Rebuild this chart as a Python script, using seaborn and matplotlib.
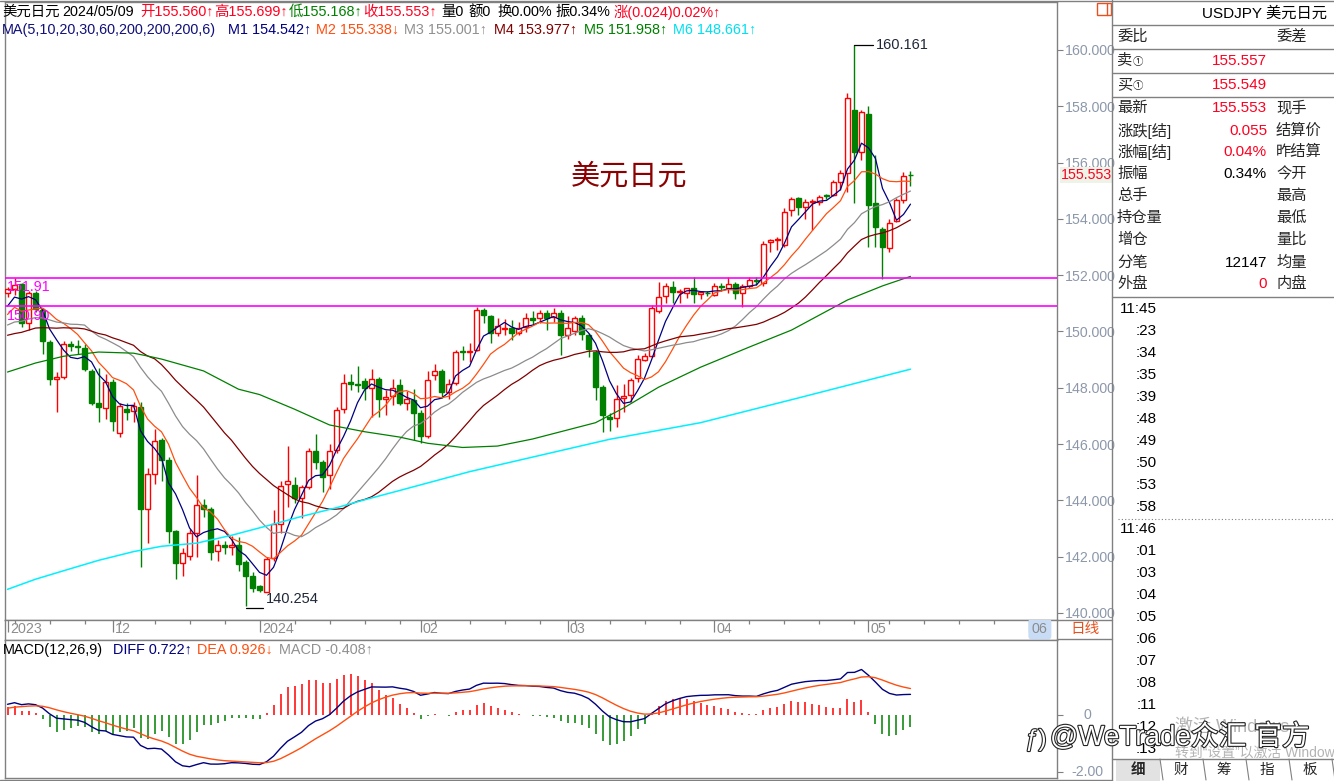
import numpy as np
import pandas as pd
import matplotlib
matplotlib.use('Agg')
import matplotlib.pyplot as plt
import matplotlib.patheffects as pe
from matplotlib.patches import Rectangle
from matplotlib.transforms import blended_transform_factory
import seaborn as sns

# USDJPY daily bars, 2023-11-10 .. 2024-05-09 (weekdays)
opens = [151.36, 151.50, 151.68, 150.30, 151.38, 150.78, 149.62, 148.32, 148.38, 149.55,
         149.50, 149.40, 148.60, 147.45, 147.28, 148.20, 146.40, 147.25, 147.18, 147.30,
         143.70, 144.93, 146.15, 145.43, 142.90, 141.78, 142.04, 142.84, 143.84, 143.70,
         142.20, 142.42, 142.36, 142.40, 141.80, 141.30, 140.95, 140.76, 141.95, 143.15,
         144.57, 144.55, 144.08, 144.49, 145.76, 145.38, 144.90, 145.80, 147.23, 148.20,
         148.15, 148.25, 148.00, 148.33, 147.59, 147.70, 148.10, 147.45, 147.57, 147.10,
         146.27, 148.45, 148.58, 147.86, 148.16, 149.32, 149.26, 149.34, 150.76, 150.55,
         149.94, 150.10, 150.12, 149.96, 150.17, 150.47, 150.47, 150.65, 150.53, 150.67,
         149.88, 150.00, 150.47, 149.88, 149.28, 148.04, 146.95, 146.92, 147.62, 147.74,
         148.34, 148.99, 149.14, 150.73, 151.26, 151.57, 151.40, 151.36, 151.54, 151.32,
         151.38, 151.30, 151.62, 151.54, 151.69, 151.36, 151.62, 151.83, 151.73, 153.19,
         153.26, 153.07, 154.32, 154.73, 154.41, 154.61, 154.61, 154.85, 154.85, 155.32,
         155.64, 157.87, 156.39, 157.72, 154.55, 153.64, 152.96, 153.94, 154.67, 155.56]
highs = [151.58, 151.91, 151.72, 151.45, 151.43, 150.85, 149.70, 148.55, 149.68, 149.66,
         149.70, 149.55, 148.65, 148.70, 148.50, 148.30, 147.45, 147.45, 147.50, 147.50,
         145.15, 146.54, 146.20, 145.55, 142.95, 142.30, 143.00, 144.90, 144.05, 143.75,
         142.60, 142.55, 142.72, 142.70, 141.90, 141.45, 141.00, 142.00, 143.66, 144.70,
         145.94, 144.84, 144.55, 145.85, 146.36, 145.45, 146.00, 147.30, 148.49, 148.49,
         148.77, 148.35, 148.67, 148.40, 147.92, 148.30, 148.30, 147.90, 147.95, 147.20,
         148.58, 148.85, 148.65, 148.30, 149.35, 149.50, 149.58, 150.88, 150.85, 150.60,
         150.47, 150.45, 150.40, 150.35, 150.67, 150.72, 150.75, 150.78, 150.85, 150.75,
         150.55, 150.55, 150.60, 149.95, 149.35, 148.10, 147.12, 148.10, 148.14, 148.35,
         149.15, 149.25, 150.94, 151.77, 151.72, 151.80, 151.50, 151.55, 151.93, 151.45,
         151.45, 151.71, 151.73, 151.93, 151.75, 151.70, 151.93, 151.95, 153.23, 153.30,
         153.36, 154.38, 154.79, 154.78, 154.70, 154.70, 154.85, 154.88, 155.37, 155.74,
         158.46, 160.161, 157.87, 158.00, 156.27, 153.70, 153.99, 154.75, 155.68, 155.699]
lows = [151.22, 151.30, 150.15, 150.05, 150.70, 149.20, 148.10, 147.15, 148.30, 149.30,
        149.20, 148.60, 147.40, 146.80, 146.90, 146.45, 146.25, 146.85, 146.80, 141.63,
        142.50, 144.60, 144.70, 142.50, 141.20, 141.30, 141.90, 142.00, 143.40, 141.90,
        141.85, 142.10, 142.05, 141.50, 140.254, 140.75, 140.75, 140.75, 141.85, 142.85,
        143.78, 143.90, 143.36, 144.40, 145.10, 144.31, 144.40, 145.70, 147.10, 147.92,
        147.86, 147.57, 146.97, 146.97, 147.05, 147.39, 147.40, 147.20, 146.15, 146.04,
        146.20, 148.28, 147.63, 147.60, 148.10, 149.00, 148.93, 149.30, 150.31, 149.58,
        149.85, 149.88, 149.70, 149.86, 149.97, 150.27, 150.30, 150.05, 150.32, 149.17,
        149.75, 149.88, 149.70, 149.10, 147.57, 146.44, 146.48, 146.60, 147.15, 147.50,
        148.20, 148.95, 149.10, 150.65, 151.00, 151.00, 151.02, 151.20, 151.02, 151.15,
        151.25, 151.25, 151.45, 151.38, 151.14, 150.88, 151.55, 151.65, 151.60, 152.83,
        152.90, 153.00, 154.10, 154.14, 153.99, 153.60, 154.49, 154.70, 154.80, 155.03,
        154.97, 154.55, 156.09, 153.01, 153.00, 151.86, 152.83, 153.90, 154.55, 155.168]
closes = [151.51, 151.65, 150.30, 151.38, 150.80, 149.68, 148.30, 148.38, 149.55, 149.50,
          149.45, 148.65, 147.45, 147.30, 148.22, 146.82, 147.35, 147.15, 147.35, 143.70,
          144.93, 146.10, 145.43, 142.93, 141.77, 142.14, 142.84, 143.84, 143.70, 142.18,
          142.40, 142.36, 142.42, 141.74, 141.33, 140.90, 140.82, 141.91, 143.15, 144.52,
          144.70, 144.08, 144.47, 145.76, 145.38, 144.84, 145.76, 147.21, 148.16, 148.12,
          148.10, 148.00, 148.30, 147.59, 147.68, 148.00, 147.45, 147.59, 147.12, 146.30,
          148.28, 148.60, 147.84, 148.12, 149.26, 149.26, 149.32, 150.76, 150.59, 149.94,
          150.18, 150.14, 149.96, 150.14, 150.47, 150.42, 150.65, 150.47, 150.65, 149.88,
          150.12, 150.47, 149.91, 149.37, 148.04, 147.03, 146.88, 147.59, 147.70, 148.28,
          149.01, 149.13, 150.82, 151.21, 151.62, 151.41, 151.43, 151.54, 151.32, 151.39,
          151.35, 151.60, 151.58, 151.69, 151.36, 151.60, 151.83, 151.80, 153.10, 153.25,
          153.28, 154.26, 154.70, 154.41, 154.61, 154.65, 154.79, 154.82, 155.32, 155.62,
          158.31, 156.39, 157.81, 154.49, 153.72, 153.01, 153.87, 154.67, 155.52, 155.553]
# closes before the window (start of the averages and MACD)
pre_closes = [149.85, 149.00, 149.10, 148.50, 149.30, 148.50, 148.70, 149.10, 149.80, 149.55,
              149.50, 149.80, 149.80, 149.80, 149.85, 149.70, 149.90, 150.20, 150.40, 149.60,
              149.10, 151.68, 150.95, 150.40, 149.40, 150.05, 150.65, 150.95, 151.35]

# MA60 / MA200 at some bars
ma60_bar = [0, 4, 8, 13, 18, 20, 22, 28, 33, 36, 41, 46, 51, 56, 60, 65, 70, 75, 84, 88,
            93, 99, 106, 112, 120, 125, 129]
ma60_val = [148.56, 148.88, 149.12, 149.27, 149.23, 149.13, 149.02, 148.60, 147.95, 147.76,
            147.24, 146.68, 146.44, 146.25, 146.03, 145.88, 145.93, 146.18, 146.76, 147.28,
            148.02, 148.73, 149.45, 150.05, 151.12, 151.62, 151.958]
ma200_bar = [0, 4, 8, 13, 18, 22, 27, 32, 37, 42, 47, 51, 56, 66, 86, 99, 113, 129]
ma200_val = [140.84, 141.20, 141.50, 141.87, 142.18, 142.37, 142.48, 142.76, 143.09, 143.43,
             143.74, 144.02, 144.35, 145.02, 146.17, 146.76, 147.64, 148.661]

levels = [151.91, 150.90]

header1 = [(2, '美元日元', 'black'), (62, '2024/05/09', 'black'), (140, '开155.560↑', '#FF0020'),
           (214, '高155.699↑', '#FF0020'), (289, '低155.168↑', '#008000'),
           (363, '收155.553↑', '#FF0020'), (441, '量0', 'black'), (468, '额0', 'black'),
           (497, '换0.00%', 'black'), (556, '振0.34%', 'black'), (614, '涨(0.024)0.02%↑', '#FF0020')]
header2 = [(2, 'MA(5,10,20,30,60,200,200,200,6)', '#10107A'), (228, 'M1 154.542↑', '#000080'),
           (316, 'M2 155.338↓', '#FF4F10'), (404, 'M3 155.001↑', '#909090'),
           (494, 'M4 153.977↑', '#800000'), (584, 'M5 151.958↑', '#008000'),
           (673, 'M6 148.661↑', '#00E0F0')]
macd_head = [(3, 'MACD(12,26,9)', 'black'), (113, 'DIFF 0.722↑', '#000080'),
             (197, 'DEA 0.926↓', '#FF4F10'), (279, 'MACD -0.408↑', '#909090')]

quote_rows = [('最新', '155.553', '现手', '#FF0020'), ('涨跌[结]', '0.055', '结算价', '#FF0020'),
              ('涨幅[结]', '0.04%', '昨结算', '#FF0020'), ('振幅', '0.34%', '今开', 'black'),
              ('总手', '', '最高', 'black'), ('持仓量', '', '最低', 'black'),
              ('增仓', '', '量比', 'black'), ('分笔', '12147', '均量', 'black'),
              ('外盘', '0', '内盘', '#FF0020')]
ticks_time = ['11:45', ':23', ':34', ':35', ':39', ':48', ':49', ':50', ':53', ':58',
              '11:46', ':01', ':03', ':04', ':05', ':06', ':07', ':08', ':11', ':12', ':13']
tabs = ['细', '财', '筹', '指', '板']

RED, GREEN = '#FF0000', '#008000'

sns.set_style('white')
plt.rcParams['font.family'] = ['Liberation Sans', 'Noto Sans CJK SC', 'DejaVu Sans']

n = len(closes)
bar = np.arange(n)
df = pd.DataFrame({'bar': bar, 'open': opens, 'high': highs, 'low': lows, 'close': closes})
up = (df['close'] >= df['open']).to_numpy()

allc = pd.Series(pre_closes + closes)
npre = len(pre_closes)
ma = {w: allc.rolling(w).mean().iloc[npre:].to_numpy() for w in (5, 10, 20, 30)}
ema12 = allc.ewm(span=12, adjust=False).mean()
ema26 = allc.ewm(span=26, adjust=False).mean()
diff = ema12 - ema26
dea = diff.ewm(span=9, adjust=False).mean()
hist = (2 * (diff - dea)).iloc[npre:].to_numpy()
diff = diff.iloc[npre:].to_numpy()
dea = dea.iloc[npre:].to_numpy()

dates = pd.bdate_range('2023-11-10', '2024-06-28')

W, H = 1334, 781
fig = plt.figure(figsize=(W / 100, H / 100), dpi=100)


def box(x0, y0, x1, y1):
    return [x0 / W, 1 - y1 / H, (x1 - x0) / W, (y1 - y0) / H]


ax = fig.add_axes(box(5, 2, 1057, 620))
axd = fig.add_axes(box(5, 620, 1057, 640))
axm = fig.add_axes(box(5, 640, 1057, 778))
axo = fig.add_axes([0, 0, 1, 1], zorder=10)
axo.set_xlim(0, W)
axo.set_ylim(H, 0)
axo.axis('off')

XL = (-0.36, 149.93)

# ---- candles ----
body_lo = np.minimum(df['open'], df['close']).to_numpy()
body_h = np.maximum((df['close'] - df['open']).abs().to_numpy(), 0.02)
ax.vlines(bar[up], df['low'][up], df['high'][up], color=RED, lw=1, zorder=3)
ax.vlines(bar[~up], df['low'][~up], df['high'][~up], color=GREEN, lw=1, zorder=3)
ax.bar(bar[up], body_h[up], bottom=body_lo[up], width=0.7, facecolor='white',
       edgecolor=RED, linewidth=1, zorder=4)
ax.bar(bar[~up], body_h[~up], bottom=body_lo[~up], width=0.7, facecolor=GREEN,
       edgecolor=GREEN, linewidth=1, zorder=4)

# ---- moving averages ----
for w, col in ((5, '#000080'), (10, '#FF4F10'), (20, '#8C8C8C'), (30, '#800000')):
    sns.lineplot(x=bar, y=ma[w], ax=ax, color=col, linewidth=0.9, zorder=5)
sns.lineplot(x=ma60_bar, y=ma60_val, ax=ax, color='#008000', linewidth=0.9, zorder=5)
sns.lineplot(x=ma200_bar, y=ma200_val, ax=ax, color='#00F0FF', linewidth=1.1, zorder=5)

for lv in levels:
    ax.axhline(lv, color='#FF00FF', lw=1.2, zorder=6)
    ax.annotate(f'{lv:.2f}', xy=(0, lv), xycoords=('axes fraction', 'data'), xytext=(1, -1.8),
                textcoords='offset points', ha='left', va='top', color='#FF00FF', fontsize=10.3,
                zorder=7)

hi = int(np.argmax(highs))
lo = int(np.argmin(lows))
ax.plot([hi, hi + 2.6], [highs[hi], highs[hi]], color='black', lw=0.9, zorder=6)
ax.annotate(f'{highs[hi]:.3f}', xy=(hi + 3.0, highs[hi]), ha='left', va='center',
            color='#1f2838', fontsize=10.5)
ax.plot([lo, lo + 2.5], [lows[lo] - 0.08, lows[lo] - 0.08], color='black', lw=0.9, zorder=6)
ax.annotate(f'{lows[lo]:.3f}', xy=(lo + 2.9, lows[lo]), xytext=(0, 5), textcoords='offset points',
            ha='left', va='center', color='#1f2838', fontsize=10.5)

ax.set_xlim(*XL)
ax.set_ylim(139.751, 161.705)
ax.set_xlabel('')
ax.set_ylabel('')
ax.yaxis.tick_right()
ax.set_yticks(np.arange(140, 161, 2))
ax.set_yticklabels([f'{v:.3f}' for v in np.arange(140, 161, 2)])
ax.tick_params(axis='y', direction='out', length=4, width=0.8, color='#808080', pad=1.5,
               labelsize=10.2, labelcolor='#8C98AA', right=True, left=False)
ax.tick_params(axis='x', bottom=False, labelbottom=False)
ax.annotate(f'{closes[-1]:.3f}', xy=(1, closes[-1]), xycoords=('axes fraction', 'data'),
            xytext=(3, 0), textcoords='offset points', ha='left', va='center', color='#FF0020',
            fontsize=10.2, bbox=dict(fc='#EDF3E6', ec='none', pad=0.6), annotation_clip=False)

ax.text(0.593, 0.718, '美元日元', transform=ax.transAxes, ha='center', va='center',
        color='#8B0000', fontsize=21)

# ---- date row ----
axd.set_xlim(*XL)
axd.set_ylim(1, 0)
axd.set_xticks([])
axd.set_yticks([])
month_start = [k for k in range(len(dates)) if k == 0 or dates[k].month != dates[k - 1].month]
mondays = [k for k in range(len(dates)) if dates[k].weekday() == 0 and k not in month_start]
axd.vlines(mondays, 0, 0.22, color='#808080', lw=0.9)
axd.vlines(month_start, 0, 0.62, color='#808080', lw=0.9)
for k in month_start:
    d = dates[k]
    lab = str(d.year) if (k == 0 or d.month == 1) else f'{d.month:02d}'
    t = axd.text(k + 0.35, 0.45, lab, ha='left', va='center', color='#8C8C8C', fontsize=10.3,
                 clip_on=True)
    if d.month == 6:
        t.set_bbox(dict(boxstyle='round,pad=0.25', fc='#C8DDF5', ec='none'))

# ---- MACD ----
axm.vlines(bar[hist >= 0], 0, hist[hist >= 0], color=RED, lw=1.1)
axm.vlines(bar[hist < 0], 0, hist[hist < 0], color=GREEN, lw=1.1)
sns.lineplot(x=bar, y=diff, ax=axm, color='#000080', linewidth=1.0)
sns.lineplot(x=bar, y=dea, ax=axm, color='#FF4F10', linewidth=1.0)
axm.set_xlim(*XL)
axm.set_ylim(-2.21, 2.632)
axm.set_xlabel('')
axm.set_ylabel('')
axm.set_xticks([])
axm.yaxis.tick_right()
axm.set_yticks([0, -2])
axm.set_yticklabels([])
axm.tick_params(axis='y', direction='out', length=4, width=0.8, color='#808080')
tr = blended_transform_factory(axm.transAxes, axm.transData)
axm.text(1.0285, 0, '0', transform=tr, ha='center', va='center', color='#8C98AA', fontsize=10.2)
axm.text(1.0285, -2, '-2.00', transform=tr, ha='center', va='center', color='#8C98AA',
         fontsize=10.2)

for a in (ax, axd, axm):
    for s in a.spines.values():
        s.set_color('#808080')
        s.set_linewidth(1)

# ---- header texts ----
for x, s, c in header1:
    axo.text(x, 12, s, ha='left', va='center', color=c, fontsize=10.4)
for x, s, c in header2:
    axo.text(x, 30, s, ha='left', va='center', color=c, fontsize=10.4)
for x, s, c in macd_head:
    axo.text(x, 650, s, ha='left', va='center', color=c, fontsize=10.4)

# ---- price column / right panel ----
gray = '#808080'
axo.plot([1112, 1112], [0, H], color=gray, lw=1)
axo.plot([0, W], [1, 1], color=gray, lw=1)
axo.plot([1057, 1112], [620, 620], color=gray, lw=1)
axo.plot([1057, 1112], [639, 639], color=gray, lw=1)
axo.text(1085, 629, '日线', ha='center', va='center', color='#E8501E', fontsize=10.5)
axo.add_patch(Rectangle((1097, 3), 14, 12, fill=False, ec='#E8501E', lw=1))
axo.plot([1107, 1107], [3, 15], color='#E8501E', lw=1)

for y in (25, 49, 73, 97, 297):
    axo.plot([1112, W], [y, y], color=gray, lw=1)
axo.text(1202, 14, 'USDJPY 美元日元', ha='left', va='center', color='black', fontsize=11)
axo.text(1117, 37, '委比', ha='left', va='center', fontsize=11)
axo.text(1276, 37, '委差', ha='left', va='center', fontsize=11)
for y, lab, val in ((61, '卖', '155.557'), (85, '买', '155.549')):
    axo.text(1117, y, lab, ha='left', va='center', fontsize=11)
    axo.text(1133, y + 1, '①', ha='left', va='center', fontsize=7.5)
    axo.text(1267, y, val, ha='right', va='center', color='#FF0020', fontsize=11)
row_y = [108, 131, 152, 174, 196, 218, 240, 263, 284]
for y, (l, v, r, c) in zip(row_y, quote_rows):
    axo.text(1117, y, l, ha='left', va='center', fontsize=11)
    axo.text(1267, y, v, ha='right', va='center', color=c, fontsize=11)
    axo.text(1276, y, r, ha='left', va='center', fontsize=11)

for k, s in enumerate(ticks_time):
    y = 309 + 22 * k
    axo.text(1157, y, s, ha='right', va='center', color='black', fontsize=11)
axo.plot([1118, W], [519, 519], color=gray, lw=0.8, ls=(0, (1, 2)))

# tabs
axo.plot([1112, W], [759, 759], color=gray, lw=1)
axo.add_patch(Rectangle((1116, 759), 44, 22, fc='#E2E2E2', ec='none'))
for k, s in enumerate(tabs):
    xc = 1138 + 43 * k
    axo.text(xc, 770, s, ha='center', va='center', fontsize=10.5,
             fontweight='bold' if k == 0 else 'normal')
    axo.plot([xc + 22, xc + 25], [759, 780], color=gray, lw=0.8)
axo.plot([0, 1112], [779.5, 779.5], color=gray, lw=1)

# watermarks
axo.text(1175, 727, '激活 Windows', ha='left', va='center', color='#B4B4B4', fontsize=13)
axo.text(1175, 753, '转到“设置”以激活 Windows。', ha='left', va='center', color='#B4B4B4',
         fontsize=10)
axo.text(1050, 737, '@WeTrade众汇 官方', ha='left', va='center', color='white', fontsize=20,
         path_effects=[pe.withStroke(linewidth=1.6, foreground='#222222')])
axo.text(1036, 740, 'ƒ)', ha='center', va='center', color='white', fontsize=17,
         path_effects=[pe.withStroke(linewidth=1.6, foreground='#222222')])

fig.savefig('out.png', dpi=100)
